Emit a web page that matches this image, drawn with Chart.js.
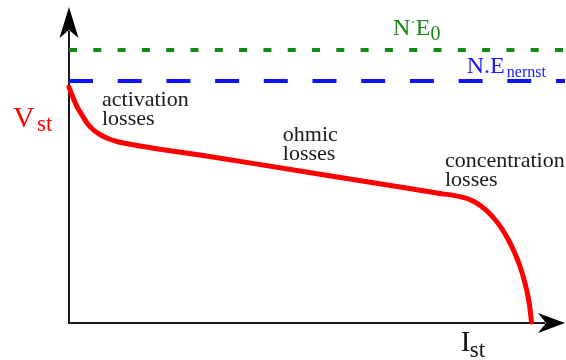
<!DOCTYPE html>
<html>
<head>
<meta charset="utf-8">
<title>Fuel cell polarization curve</title>
<script src="https://cdn.jsdelivr.net/npm/chart.js@4.4.1/dist/chart.umd.min.js"></script>
<style>
  html, body { margin: 0; padding: 0; background: #ffffff; }
  #wrap { width: 566px; height: 360px; position: relative; }
</style>
</head>
<body>
<div id="wrap"><canvas id="chart"></canvas></div>
<script>
// Stack current (arbitrary units) and the resulting stack voltage.
const stackCurrent = [0, 0.60, 1.61, 2.62, 3.63, 4.84, 6.25, 7.86, 9.68, 11.29, 12.90, 18.35, 26.41, 46.57, 66.73, 74.80, 78.83, 80.24, 81.65, 83.06, 84.48, 85.89, 87.30, 88.71, 89.92, 90.93, 91.73, 92.34, 92.84, 93.25];
const stackVoltage = [74.68, 72.15, 68.51, 65.82, 63.29, 61.23, 59.65, 58.39, 57.44, 56.87, 56.39, 55.00, 53.16, 48.10, 43.04, 41.01, 40.00, 39.40, 38.45, 37.03, 35.13, 32.75, 29.75, 25.95, 21.99, 17.88, 13.83, 9.94, 5.73, 0.3];

// Reference voltage levels: ideal (N·E0) and Nernst (N.E_nernst).
const idealVoltage = 86.39;
const nernstVoltage = 76.58;

// Axis extents.
const currentRange = [0, 100];
const voltageRange = [0, 100];

// Loss-region captions.
const lossLabels = [
  ['activation', 'losses'],
  ['ohmic', 'losses'],
  ['concentration', 'losses']
];

const SERIF = '"Liberation Serif", "Times New Roman", serif';

// Where each caption sits, in data units (left edge, first baseline).
const lossAnchors = [
  { x: 6.65, y: 68.7 },
  { x: 43.1, y: 57.6 },
  { x: 75.8, y: 49.4 }
];

function levelLine(v) {
  return currentRange.map(x => ({ x: x, y: v }));
}

// Draws a filled arrowhead with a notched back.
function arrowHead(ctx, tipX, tipY, dirX, dirY, len, half, notch) {
  const px = -dirY, py = dirX;
  const bx = tipX - dirX * len, by = tipY - dirY * len;
  ctx.beginPath();
  ctx.moveTo(tipX, tipY);
  ctx.lineTo(bx + px * half, by + py * half);
  ctx.lineTo(tipX - dirX * (len - notch), tipY - dirY * (len - notch));
  ctx.lineTo(bx - px * half, by - py * half);
  ctx.closePath();
  ctx.fill();
}

const axesPlugin = {
  id: 'arrowAxes',
  beforeDatasetsDraw(chart) {
    const { ctx } = chart;
    const xs = chart.scales.x, ys = chart.scales.y;
    const x0 = xs.getPixelForValue(currentRange[0]);
    const xEnd = xs.getPixelForValue(currentRange[1]);
    const y0 = ys.getPixelForValue(voltageRange[0]);
    const yEnd = ys.getPixelForValue(voltageRange[1]);
    ctx.save();
    ctx.strokeStyle = '#1a1a1a';
    ctx.fillStyle = '#000000';
    ctx.lineWidth = 2;
    ctx.beginPath();
    ctx.moveTo(x0, yEnd + 24);
    ctx.lineTo(x0, y0);
    ctx.lineTo(xEnd - 20, y0);
    ctx.stroke();
    arrowHead(ctx, x0, yEnd, 0, -1, 31, 9.5, 8);
    arrowHead(ctx, xEnd, y0, 1, 0, 27, 10, 8);
    ctx.restore();
  }
};

const textPlugin = {
  id: 'curveText',
  afterDatasetsDraw(chart) {
    const { ctx } = chart;
    const xs = chart.scales.x, ys = chart.scales.y;
    ctx.save();
    ctx.textBaseline = 'alphabetic';
    ctx.textAlign = 'left';

    // Loss-region captions
    ctx.fillStyle = '#1a1a1a';
    ctx.font = '22px ' + SERIF;
    lossLabels.forEach((lines, i) => {
      const lx = xs.getPixelForValue(lossAnchors[i].x);
      const ly = ys.getPixelForValue(lossAnchors[i].y);
      lines.forEach((t, j) => ctx.fillText(t, lx, ly + j * 19.5));
    });

    // Vertical axis title: V_st
    const axX = xs.getPixelForValue(currentRange[0]);
    const axY = ys.getPixelForValue(voltageRange[0]);
    ctx.fillStyle = '#ff0000';
    ctx.font = '30px ' + SERIF;
    ctx.fillText('V', axX - 56, 127);
    ctx.font = '23px ' + SERIF;
    ctx.fillText('st', axX - 32, 131);

    // Horizontal axis title: I_st
    ctx.fillStyle = '#111111';
    const ix = xs.getPixelForValue(79.0);
    ctx.font = '29px ' + SERIF;
    ctx.fillText('I', ix, axY + 28);
    ctx.font = '23px ' + SERIF;
    ctx.fillText('st', ix + 9, axY + 34);

    // N·E0 caption above the ideal level
    const gY = ys.getPixelForValue(idealVoltage);
    let gx = xs.getPixelForValue(65.3);
    ctx.fillStyle = '#138a13';
    ctx.font = '24px ' + SERIF;
    ctx.fillText('N', gx, gY - 15);
    gx += ctx.measureText('N').width;
    ctx.font = '14px ' + SERIF;
    ctx.fillText('·', gx + 0.5, gY - 23);
    gx += 5.5;
    ctx.font = '24px ' + SERIF;
    ctx.fillText('E', gx, gY - 15);
    gx += ctx.measureText('E').width;
    ctx.font = '20px ' + SERIF;
    ctx.fillText('0', gx, gY - 10);

    // N.E_nernst caption above the Nernst level
    const bY = ys.getPixelForValue(nernstVoltage);
    let bx = xs.getPixelForValue(80.2);
    ctx.fillStyle = '#1a1aff';
    ctx.font = '24px ' + SERIF;
    ctx.fillText('N.E', bx, bY - 8);
    bx += ctx.measureText('N.E').width + 2;
    ctx.font = '16px ' + SERIF;
    ctx.fillText('nernst', bx, bY - 4);

    ctx.restore();
  }
};

function drawChart() {
  new Chart(document.getElementById('chart'), {
    type: 'line',
    data: {
      datasets: [
        {
          label: 'N·E0',
          data: levelLine(idealVoltage),
          borderColor: '#138a13',
          borderWidth: 4,
          borderDash: [8, 16.3],
          pointRadius: 0,
          clip: false
        },
        {
          label: 'N.E nernst',
          data: levelLine(nernstVoltage),
          borderColor: '#0a14ff',
          borderWidth: 4,
          borderDash: [24, 24.7],
          pointRadius: 0,
          clip: false
        },
        {
          label: 'V st',
          data: stackCurrent.map((x, i) => ({ x: x, y: stackVoltage[i] })),
          borderColor: '#ff0000',
          borderWidth: 5,
          cubicInterpolationMode: 'monotone',
          borderCapStyle: 'round',
          pointRadius: 0,
          clip: false
        }
      ]
    },
    options: {
      responsive: true,
      maintainAspectRatio: false,
      animation: false,
      layout: { padding: { left: 69, right: 1, top: 7, bottom: 37 } },
      plugins: {
        legend: { display: false },
        tooltip: { enabled: false }
      },
      scales: {
        x: { type: 'linear', display: false, min: currentRange[0], max: currentRange[1] },
        y: { type: 'linear', display: false, min: voltageRange[0], max: voltageRange[1] }
      }
    },
    plugins: [axesPlugin, textPlugin]
  });
}

// Make sure the serif face is ready before the single (non-animated) draw.
Promise.all([
  document.fonts.load('22px "Liberation Serif"'),
  document.fonts.load('30px "Liberation Serif"')
]).then(drawChart, drawChart);
</script>
</body>
</html>
